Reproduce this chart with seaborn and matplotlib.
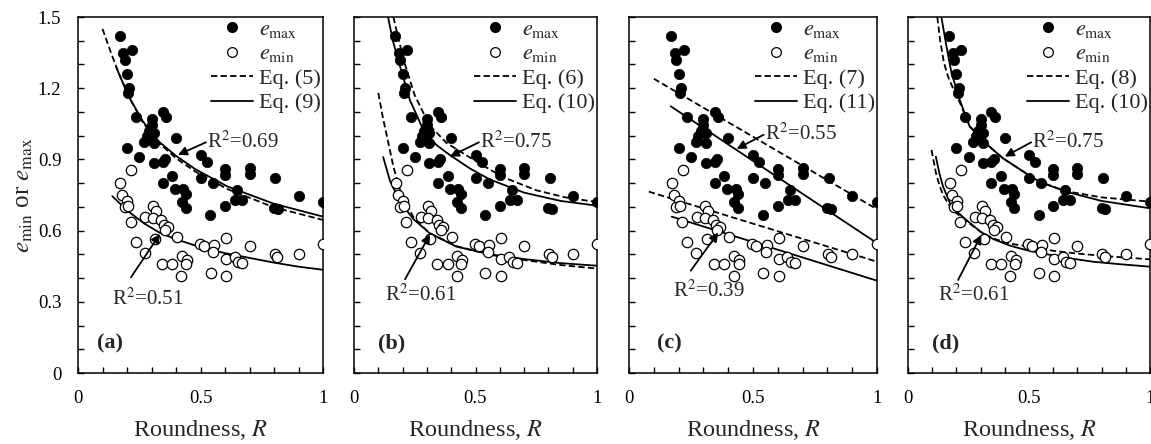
import matplotlib
matplotlib.use('Agg')
import numpy as np
import matplotlib.pyplot as plt
from matplotlib.lines import Line2D
import seaborn as sns

# measured points (same in every panel)
R_max = [0.17, 0.185, 0.22, 0.19, 0.20, 0.21, 0.205, 0.235, 0.30, 0.345, 0.36, 0.30,
         0.29, 0.31, 0.27, 0.31, 0.28, 0.40, 0.20, 0.25, 0.31, 0.345, 0.355, 0.50,
         0.525, 0.385, 0.345, 0.395, 0.43, 0.44, 0.425, 0.44, 0.50, 0.55, 0.54, 0.60,
         0.60, 0.60, 0.64, 0.65, 0.67, 0.70, 0.70, 0.805, 0.80, 0.815, 0.90, 1.0]
e_max = [1.42, 1.35, 1.36, 1.32, 1.26, 1.20, 1.18, 1.08, 1.07, 1.10, 1.08, 1.045,
         1.02, 1.01, 0.975, 0.97, 1.0, 0.99, 0.95, 0.91, 0.885, 0.89, 0.90, 0.92,
         0.89, 0.83, 0.80, 0.775, 0.775, 0.755, 0.72, 0.695, 0.82, 0.80, 0.665, 0.86,
         0.835, 0.705, 0.73, 0.77, 0.73, 0.865, 0.84, 0.82, 0.695, 0.69, 0.745, 0.72]
R_min = [0.218, 0.173, 0.181, 0.201, 0.19, 0.204, 0.215, 0.235, 0.272, 0.275, 0.306,
         0.317, 0.306, 0.34, 0.351, 0.367, 0.356, 0.313, 0.404, 0.343, 0.385, 0.424,
         0.445, 0.442, 0.422, 0.497, 0.514, 0.555, 0.551, 0.603, 0.603, 0.541, 0.603,
         0.639, 0.653, 0.669, 0.70, 0.803, 0.814, 0.90, 1.0]
e_min = [0.855, 0.802, 0.75, 0.726, 0.701, 0.704, 0.638, 0.553, 0.504, 0.656, 0.704,
         0.683, 0.652, 0.645, 0.624, 0.617, 0.602, 0.565, 0.574, 0.458, 0.461, 0.493,
         0.476, 0.459, 0.409, 0.542, 0.535, 0.539, 0.509, 0.570, 0.480, 0.420, 0.409,
         0.490, 0.469, 0.462, 0.535, 0.501, 0.490, 0.501, 0.543]

# fitted curves
a_max_dash_R = [0.10, 0.136, 0.17, 0.21, 0.265, 0.33, 0.40, 0.48, 0.61, 0.80, 1.0]
a_max_dash_e = [1.45, 1.345, 1.255, 1.16, 1.055, 0.97, 0.905, 0.848, 0.775, 0.698, 0.645]
a_max_solid_R = [0.155, 0.18, 0.21, 0.265, 0.33, 0.40, 0.48, 0.61, 0.80, 1.0]
a_max_solid_e = [1.29, 1.23, 1.16, 1.06, 0.975, 0.915, 0.858, 0.786, 0.713, 0.659]
a_min_solid_R = [0.14, 0.2, 0.27, 0.335, 0.41, 0.5, 0.6, 0.7, 0.8, 0.9, 1.0]
a_min_solid_e = [0.745, 0.685, 0.63, 0.59, 0.56, 0.53, 0.505, 0.485, 0.465, 0.448, 0.435]

b_max_dash_R = [0.162, 0.185, 0.21, 0.25, 0.31, 0.38, 0.45, 0.53, 0.614, 0.75, 0.87, 1.0]
b_max_dash_e = [1.50, 1.40, 1.30, 1.17, 1.045, 0.97, 0.925, 0.875, 0.825, 0.77, 0.74, 0.72]
b_max_solid_R = [0.14, 0.16, 0.19, 0.23, 0.285, 0.34, 0.395, 0.48, 0.56, 0.70, 0.85, 1.0]
b_max_solid_e = [1.50, 1.40, 1.29, 1.15, 1.025, 0.96, 0.918, 0.86, 0.815, 0.76, 0.725, 0.705]
b_min_dash_R = [0.10, 0.12, 0.135, 0.162, 0.19, 0.245, 0.31, 0.42, 0.56, 0.70, 0.85, 1.0]
b_min_dash_e = [1.18, 1.07, 1.0, 0.87, 0.77, 0.655, 0.59, 0.535, 0.498, 0.476, 0.455, 0.44]
b_min_solid_R = [0.12, 0.148, 0.19, 0.245, 0.31, 0.42, 0.56, 0.70, 0.85, 1.0]
b_min_solid_e = [0.91, 0.81, 0.72, 0.648, 0.59, 0.533, 0.50, 0.48, 0.463, 0.452]

c_max_dash_R = [0.10, 1.0]
c_max_dash_e = [1.24, 0.69]
c_max_solid_R = [0.168, 1.0]
c_max_solid_e = [1.124, 0.547]
c_min_dash_R = [0.08, 1.0]
c_min_dash_e = [0.764, 0.469]
c_min_solid_R = [0.172, 1.0]
c_min_solid_e = [0.659, 0.389]

d_max_dash_R = [0.121, 0.133, 0.148, 0.165, 0.19, 0.214, 0.255, 0.324, 0.392, 0.47, 0.543, 0.653, 0.80, 1.0]
d_max_dash_e = [1.50, 1.40, 1.31, 1.25, 1.19, 1.14, 1.04, 0.965, 0.905, 0.853, 0.806, 0.766, 0.74, 0.722]
d_max_solid_R = [0.138, 0.16, 0.18, 0.214, 0.255, 0.324, 0.392, 0.47, 0.543, 0.653, 0.80, 1.0]
d_max_solid_e = [1.50, 1.37, 1.263, 1.15, 1.038, 0.965, 0.905, 0.853, 0.806, 0.764, 0.725, 0.694]
d_min_dash_R = [0.097, 0.115, 0.13, 0.145, 0.18, 0.241, 0.30, 0.351, 0.42, 0.488, 0.60, 0.70, 0.85, 1.0]
d_min_dash_e = [0.94, 0.845, 0.79, 0.75, 0.69, 0.64, 0.595, 0.567, 0.545, 0.535, 0.515, 0.503, 0.49, 0.479]
d_min_solid_R = [0.115, 0.13, 0.145, 0.18, 0.241, 0.30, 0.351, 0.42, 0.488, 0.625, 0.763, 0.88, 1.0]
d_min_solid_e = [0.912, 0.84, 0.785, 0.70, 0.645, 0.595, 0.565, 0.537, 0.518, 0.49, 0.469, 0.458, 0.448]

eq_labels = [("Eq. (5)", "Eq. (9)"), ("Eq. (6)", "Eq. (10)"),
             ("Eq. (7)", "Eq. (11)"), ("Eq. (8)", "Eq. (10)")]
r2_max = ["0.69", "0.75", "0.55", "0.75"]
r2_min = ["0.51", "0.61", "0.39", "0.61"]
tags = ["(a)", "(b)", "(c)", "(d)"]

sns.set_style("ticks")
plt.rcParams['font.family'] = ['Liberation Serif', 'DejaVu Serif']
plt.rcParams['mathtext.fontset'] = 'stix'
plt.rcParams['axes.linewidth'] = 1.1
plt.rcParams['axes.edgecolor'] = 'black'

fig = plt.figure(figsize=(11.51, 4.44), dpi=100)
W, H = 1151, 444
boxes = [(78, 245), (354, 243), (629, 248), (908, 242)]
bottom, top = 373, 17

curves = [
    [(a_max_dash_R, a_max_dash_e, '--'), (a_max_solid_R, a_max_solid_e, '-'),
     (a_min_solid_R, a_min_solid_e, '-')],
    [(b_max_dash_R, b_max_dash_e, '--'), (b_max_solid_R, b_max_solid_e, '-'),
     (b_min_dash_R, b_min_dash_e, '--'), (b_min_solid_R, b_min_solid_e, '-')],
    [(c_max_dash_R, c_max_dash_e, '--'), (c_max_solid_R, c_max_solid_e, '-'),
     (c_min_dash_R, c_min_dash_e, '--'), (c_min_solid_R, c_min_solid_e, '-')],
    [(d_max_dash_R, d_max_dash_e, '--'), (d_max_solid_R, d_max_solid_e, '-'),
     (d_min_dash_R, d_min_dash_e, '--'), (d_min_solid_R, d_min_solid_e, '-')],
]

# annotation positions: (text xy, arrow start, arrow tip) for max and min
ann_max = [((0.527, 0.975), (0.522, 0.972), (0.408, 0.919)),
           ((0.519, 0.975), (0.514, 0.972), (0.395, 0.912)),
           ((0.548, 1.007), (0.543, 1.004), (0.434, 0.944)),
           ((0.514, 0.975), (0.509, 0.972), (0.400, 0.912))]
ann_min = [((0.286, 0.31), (0.216, 0.403), (0.335, 0.586)),
           ((0.276, 0.33), (0.210, 0.395), (0.313, 0.584)),
           ((0.323, 0.345), (0.249, 0.431), (0.360, 0.592)),
           ((0.272, 0.33), (0.207, 0.392), (0.303, 0.582))]
tag_x = [0.078, 0.099, 0.113, 0.099]

DASH = (3.5, 1.8)

for i, (x0, w) in enumerate(boxes):
    ax = fig.add_axes([x0 / W, (H - bottom) / H, w / W, (bottom - top) / H])
    for xs, ys, ls in curves[i]:
        if ls == '--':
            sns.lineplot(x=xs, y=ys, ax=ax, color='k', lw=1.3, dashes=False,
                         estimator=None, sort=False, zorder=2).lines[-1].set_dashes(DASH)
        else:
            sns.lineplot(x=xs, y=ys, ax=ax, color='k', lw=1.3,
                         estimator=None, sort=False, zorder=2)
    sns.scatterplot(x=R_max, y=e_max, ax=ax, color='k', edgecolor='k', s=56,
                    linewidth=0.5, zorder=3)
    sns.scatterplot(x=R_min, y=e_min, ax=ax, color='white', edgecolor='k', s=56,
                    linewidth=0.9, zorder=3)

    ax.set_xlim(0, 1)
    ax.set_ylim(0, 1.5)
    ax.set_xticks([0, 0.5, 1])
    ax.set_xticklabels(["0", "0.5", "1"])
    ax.set_xticks(np.arange(0, 1.01, 0.1), minor=True)
    ax.set_yticks([0, 0.3, 0.6, 0.9, 1.2, 1.5])
    ax.set_yticklabels(["0", "0.3", "0.6", "0.9", "1.2", "1.5"])
    ax.set_yticks(np.arange(0, 1.51, 0.1), minor=True)
    ax.tick_params(which='both', direction='in', length=4.5, width=1.0,
                   top=False, right=False, labelsize=13.5, pad=12, colors='k')
    if i > 0:
        ax.tick_params(labelleft=False)
    for s in ax.spines.values():
        s.set_visible(True)
        s.set_color('k')
    ax.set_xlabel("Roundness, $R$", fontsize=17.5, labelpad=8)
    ax.set_ylabel("")

    handles = [
        Line2D([], [], marker='o', ls='none', mfc='k', mec='k', ms=7),
        Line2D([], [], marker='o', ls='none', mfc='white', mec='k', ms=7, mew=0.9),
        Line2D([], [], color='k', lw=1.3, ls='--', dashes=DASH),
        Line2D([], [], color='k', lw=1.3),
    ]
    labels = [r"$e_{\mathrm{max}}$", r"$e_{\mathrm{min}}$", eq_labels[i][0], eq_labels[i][1]]
    ax.legend(handles, labels, loc='upper right', frameon=False, fontsize=16,
              handlelength=1.9, handletextpad=0.25, labelspacing=0.18,
              borderaxespad=0.0, borderpad=0.1)

    (tx, ty), st, tip = ann_max[i]
    ax.annotate("", xy=tip, xytext=st,
                arrowprops=dict(arrowstyle='-|>', color='k', lw=1.3, mutation_scale=13,
                                shrinkA=0, shrinkB=0))
    ax.text(tx, ty, "R$^{2}$=" + r2_max[i], fontsize=15, ha='left', va='center')
    (tx, ty), st, tip = ann_min[i]
    ax.annotate("", xy=tip, xytext=st,
                arrowprops=dict(arrowstyle='-|>', color='k', lw=1.3, mutation_scale=13,
                                shrinkA=0, shrinkB=0))
    ax.text(tx, ty, "R$^{2}$=" + r2_min[i], fontsize=15, ha='center', va='center')

    ax.text(tag_x[i], 0.126, tags[i], fontsize=16, fontweight='bold', va='center', ha='left')

    if i == 0:
        ax.set_ylabel(r"$e_{\mathrm{min}}$ or $e_{\mathrm{max}}$", fontsize=18, labelpad=2)

fig.savefig("out.png", dpi=100)
